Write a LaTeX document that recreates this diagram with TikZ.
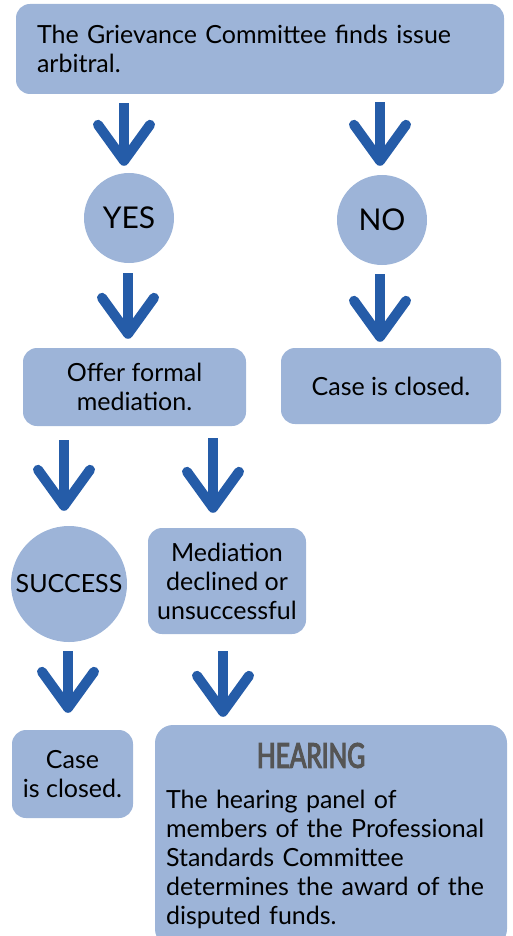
\documentclass[tikz,border=0pt]{standalone}
\usepackage{fontspec}
\setmainfont{Lato}
\newfontfamily\headfont[FakeStretch=0.72,FakeBold=3.5]{Lato}
\usetikzlibrary{arrows.meta,calc}

\definecolor{boxblue}{RGB}{157,180,216}
\definecolor{arrowblue}{RGB}{37,92,168}
\definecolor{headgray}{RGB}{85,85,85}

\tikzset{
  box/.style={fill=boxblue, rounded corners=14pt, inner sep=0pt, align=center,
    font=\fontsize{25}{29}\selectfont},
  bubble/.style={fill=boxblue, circle, inner sep=0pt},
  flow/.style={draw=arrowblue, line width=10pt,
    -{Straight Barb[length=36pt,width=52pt,round]}}
}

\begin{document}
\begin{tikzpicture}[x=1pt,y=-1pt]
	\useasboundingbox (0,0) rectangle (513,936);
	% boxes and bubbles
	\node[box, align=left, text width=446pt, inner xsep=21pt, minimum height=90pt] (top) at (260,49)
		{The Grievance Committee finds issue\\ arbitral.};
	\node[bubble, minimum size=90pt, font=\fontsize{30}{30}\selectfont] (yes) at (129,218) {YES};
	\node[bubble, minimum size=90pt, font=\fontsize{30}{30}\selectfont] (no) at (382,220) {NO};
	\node[box, minimum width=223pt, minimum height=78pt] (offer) at (134.5,387) {Offer formal\\ mediation.};
	\node[box, minimum width=220pt, minimum height=76pt] (closedno) at (391,386) {Case is closed.};
	\node[bubble, minimum size=116pt, font=\fontsize{25}{29}\selectfont] (success) at (69,584) {SUCCESS};
	\node[box, minimum width=158pt, minimum height=106pt] (declined) at (227,581)
		{Mediation\\ declined or\\ unsuccessful};
	\node[box, minimum width=121pt, minimum height=88pt] (closedyes) at (72.5,774) {Case\\ is closed.};
	\node[box, rounded corners=18pt, align=left, text width=330pt, inner xsep=11pt, minimum height=222pt] (hearing) at (331,836)
		{\hspace*{91pt}{\headfont\fontsize{34}{34}\selectfont\color{headgray}HEARING}\\[12pt]
		The hearing panel of\\ members of the Professional\\ Standards Committee\\
		determines the award of the\\ disputed funds.};

	% arrows
	\draw[flow] ($(top.south -| yes)+(-5,9)$) -- ($(yes.north)+(-5,-7)$);
	\draw[flow] ($(top.south -| no)+(-2,8)$) -- ($(no.north)+(-2,-9)$);
	\draw[flow] ($(yes.south)+(-1,10)$) -- ($(yes.south |- offer.north)+(-1,-9)$);
	\draw[flow] ($(no.south)+(-2,9)$) -- ($(no.south |- closedno.north)+(-2,-6)$);
	\draw[flow] ($(offer.south -| success)+(-5,14)$) -- ($(success.north)+(-5,-15)$);
	\draw[flow] ($(offer.south -| declined)+(-14,12)$) -- ($(declined.north)+(-14,-15)$);
	\draw[flow] ($(success.south)+(-1,9)$) -- ($(success.south |- closedyes.north)+(-1,-17)$);
	\draw[flow] ($(declined.south)+(-4,17)$) -- ($(declined.south |- hearing.north)+(-4,-8)$);
\end{tikzpicture}
\end{document}
